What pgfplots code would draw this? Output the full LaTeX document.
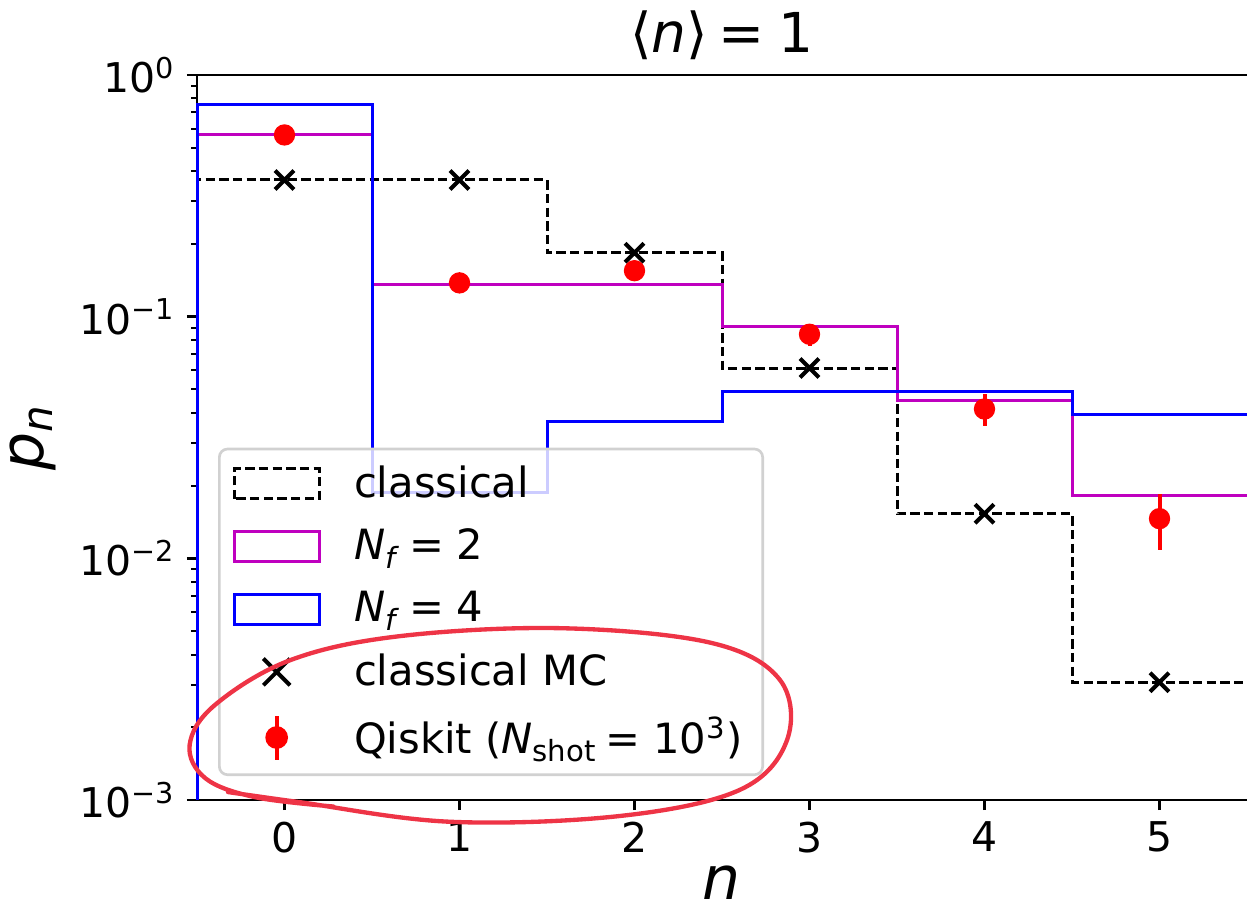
\documentclass[border=0pt]{standalone}
\usepackage{pgfplots}
\pgfplotsset{compat=1.18}
\usepackage{fontspec}
\setmainfont{DejaVu Sans}
\definecolor{mplmag}{rgb}{0.75,0,0.75}
\definecolor{annot}{RGB}{238,52,70}

\begin{document}
\begin{tikzpicture}
\begin{axis}[name=ax,
  scale only axis, width=315pt, height=217.5pt,
  ymode=log, xmin=-0.5, xmax=5.5, ymin=1e-3, ymax=1,
  axis x line*=box, axis y line*=left,
  xtick pos=left, ytick pos=left,
  xtick={0,1,2,3,4,5}, xticklabels={0,1,2,3,4,5},
  ytick={0.001,0.01,0.1,1},
  yticklabels={10\textsuperscript{−3},10\textsuperscript{−2},10\textsuperscript{−1},10\textsuperscript{0}},
  minor ytick={0.002,0.003,0.004,0.005,0.006,0.007,0.008,0.009,0.02,0.03,0.04,0.05,0.06,0.07,0.08,0.09,0.2,0.3,0.4,0.5,0.6,0.7,0.8,0.9},
  tick align=outside, major tick length=3pt, minor tick length=1.8pt,
  every tick/.style={black, line width=0.8pt},
  minor tick style={line width=0.6pt},
  axis line style={black, line width=0.8pt},
  ticklabel style={font=\fontsize{12.3}{14}\selectfont},
  title={⟨\textit{n}⟩\hspace{0.2em}=\hspace{0.25em}1},
  title style={font=\fontsize{16.5}{19}\selectfont, yshift=-5pt},
  xlabel={\textit{n}}, ylabel={\textit{p}\textsubscript{\textit{n}}},
  label style={font=\fontsize{18}{21}\selectfont},
  xlabel style={yshift=3pt},
  clip=false,
  legend cell align=left,
  legend style={at={(rel axis cs:0.02,0.033)}, anchor=south west,
    draw=black!18, line width=0.8pt, rounded corners=2.5pt,
    fill=white, fill opacity=0.8, draw opacity=1, text opacity=1,
    font=\fontsize{12.5}{15}\selectfont,
    inner xsep=4pt, inner ysep=3pt, row sep=4pt,
    /tikz/every odd column/.append style={column sep=8pt}},
]
% classical (Poisson)
\addplot[black, line width=0.9pt, dash pattern=on 2.8pt off 1.3pt,
  legend image code/.code={\draw[sharp corners, black, line width=0.9pt, dash pattern=on 2.8pt off 1.3pt] (0pt,-4.5pt) rectangle (25.5pt,4.5pt);}]
 coordinates {(-0.5,0.001) (-0.5,0.368) (1.5,0.368) (1.5,0.184) (2.5,0.184) (2.5,0.0613) (3.5,0.0613) (3.5,0.0153) (4.5,0.0153) (4.5,0.00307) (5.5,0.00307)};
\addlegendentry{classical}
% Nf = 2
\addplot[mplmag, line width=0.9pt,
  legend image code/.code={\draw[sharp corners, mplmag, line width=0.9pt] (0pt,-4.5pt) rectangle (25.5pt,4.5pt);}]
 coordinates {(-0.5,0.001) (-0.5,0.568) (0.5,0.568) (0.5,0.136) (2.5,0.136) (2.5,0.0909) (3.5,0.0909) (3.5,0.0452) (4.5,0.0452) (4.5,0.0182) (5.5,0.0182)};
\addlegendentry{\textit{N}\textsubscript{\textit{f}}\hspace{0.2em}=\hspace{0.3em}2}
% Nf = 4
\addplot[blue, line width=0.9pt,
  legend image code/.code={\draw[sharp corners, blue, line width=0.9pt] (0pt,-4.5pt) rectangle (25.5pt,4.5pt);}]
 coordinates {(-0.5,0.001) (-0.5,0.754) (0.5,0.754) (0.5,0.0187) (1.5,0.0187) (1.5,0.0368) (2.5,0.0368) (2.5,0.0491) (4.5,0.0491) (4.5,0.0392) (5.5,0.0392)};
\addlegendentry{\textit{N}\textsubscript{\textit{f}}\hspace{0.2em}=\hspace{0.3em}4}
% classical MC
\addplot[only marks, mark=x, mark size=4pt, black, mark options={line width=1.2pt},
  legend image code/.code={\path[draw=none, fill=none] (0pt,-4.5pt) rectangle (25.5pt,4.5pt); \draw[sharp corners, black, line width=1.2pt] (8.75pt,-4pt)--(16.75pt,4pt) (8.75pt,4pt)--(16.75pt,-4pt);}]
 coordinates {(0,0.368) (1,0.368) (2,0.184) (3,0.0613) (4,0.0153) (5,0.00307)};
\addlegendentry{classical MC}
% Qiskit
\addplot[only marks, mark=*, mark size=3pt, red, mark options={draw=red, fill=red},
  legend image code/.code={\path[draw=none, fill=none] (0pt,-4.5pt) rectangle (25.5pt,4.5pt); \draw[sharp corners, red, line width=1.2pt] (12.75pt,-6.6pt)--(12.75pt,6.6pt); \fill[red, fill opacity=1] (12.75pt,0pt) circle (3pt);},
  error bars/.cd, y dir=both, y explicit, error mark=none,
  error bar style={red, line width=1.2pt}]
 table[x=n, y=p, y error=e] {
 n p e
 0 0.565 0.0157
 1 0.138 0.0109
 2 0.155 0.0114
 3 0.0846 0.0088
 4 0.0415 0.0063
 5 0.0146 0.0038
 };
\addlegendentry{Qiskit (\textit{N}\textsubscript{shot}\hspace{0.2em}=\hspace{0.3em}10\textsuperscript{3})}
\end{axis}
\begin{scope}[shift={(ax.south west)}, x=315pt, y=217.5pt]
\draw[annot, line width=1.3pt, line cap=round] plot[smooth, tension=0.6] coordinates {
 (0.0295,0.011) (0.098,-0.003) (0.241,-0.030) (0.403,-0.022) (0.517,0.014) (0.562,0.083) (0.555,0.166) (0.489,0.217) (0.346,0.237) (0.193,0.226) (0.089,0.193) (0.017,0.131) (-0.007,0.076) (0.008,0.030) (0.055,0.004) (0.130,-0.009)};
\end{scope}
\pgfresetboundingbox
\path[use as bounding box] ([xshift=-59.1pt,yshift=-33.9pt]ax.south west) rectangle ([yshift=22.5pt]ax.north east);
\end{tikzpicture}
\end{document}
